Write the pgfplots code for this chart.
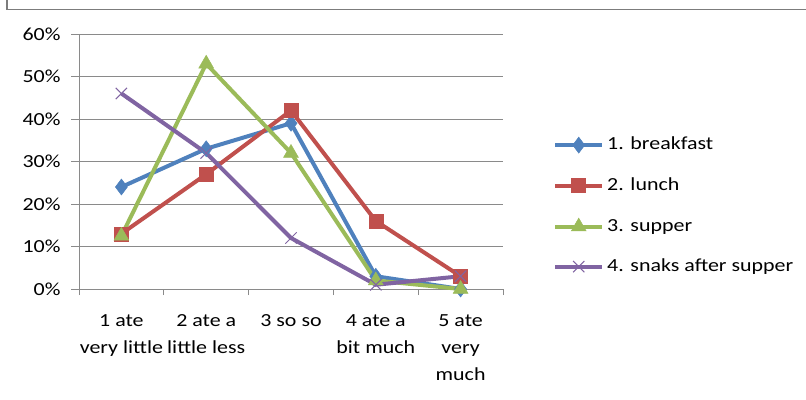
\documentclass[border=0pt]{standalone}
\usepackage{pgfplots}
\pgfplotsset{compat=1.18}
\usepackage{fontspec}
\setmainfont{Carlito}[FakeStretch=1.19]

\definecolor{sBlue}{HTML}{4F81BD}
\definecolor{sRed}{HTML}{C0504D}
\definecolor{sGreen}{HTML}{9BBB59}
\definecolor{sPurple}{HTML}{8064A2}
\definecolor{gridgray}{HTML}{8A8A8A}

\begin{document}
\begin{tikzpicture}[x=1bp,y=1bp]
\path[use as bounding box] (0,0) rectangle (806,399);
% chart frame (top and left edges visible)
\draw[gridgray!90!black, line width=1.6bp] (7,399) -- (7,389.5) -- (806,389.5);

\begin{axis}[
  at={(79bp,110bp)}, anchor=south west,
  width=424bp, height=255bp, scale only axis,
  xmin=0, xmax=5, ymin=0, ymax=60,
  axis x line=bottom, axis y line=left,
  axis line style={gridgray, line width=1bp, -},
  tick align=outside,
  xtick={0.5,1.5,2.5,3.5,4.5},
  xticklabels={{1 ate\\very little},{2 ate a\\little less},{3 so so},{4 ate a\\bit much},{5 ate\\very\\much}},
  major x tick style={draw=none},
  minor xtick={0,1,2,3,4,5},
  minor tick length=6bp,
  minor x tick style={gridgray, line width=1bp},
  ytick={0,10,20,30,40,50,60},
  yticklabel={\pgfmathprintnumber{\tick}\%},
  major tick length=8bp,
  y tick style={gridgray, line width=1bp},
  ymajorgrids,
  grid style={gridgray, line width=1bp},
  /pgf/number format/assume math mode=true,
  xticklabel style={align=center, font=\fontsize{18.5}{27}\selectfont, anchor=north, yshift=-14bp},
  yticklabel style={font=\fontsize{18.5}{20}\selectfont, anchor=east, xshift=-7bp},
  legend style={draw=none, fill=none, inner sep=0pt,
    at={(rel axis cs:1.118,0.327)}, anchor=west,
    font=\fontsize{18.5}{20}\selectfont,
    nodes={inner sep=0pt, anchor=west, text height=12bp, text depth=3bp},
    row sep=25bp, column sep=3bp},
  legend cell align=left,
  legend image code/.code={\draw[mark repeat=2,mark phase=2,#1] plot coordinates {(0bp,0bp) (23.5bp,0bp) (47bp,0bp)};},
  clip=false,
]
\addplot[sBlue, line width=4bp, mark=diamond*, mark size=8bp, mark options={solid, line width=0.5bp, fill=sBlue}]
  coordinates {(0.5,24) (1.5,33) (2.5,39) (3.5,3) (4.5,0)};
\addlegendentry{1. breakfast}
\addplot[sRed, line width=4bp, mark=square*, mark size=7bp, mark options={solid, line width=0.5bp, fill=sRed}]
  coordinates {(0.5,13) (1.5,27) (2.5,42) (3.5,16) (4.5,3)};
\addlegendentry{2. lunch}
\addplot[sGreen, line width=4bp, mark=triangle*, mark size=8.5bp, mark options={solid, line width=0.5bp, fill=sGreen}]
  coordinates {(0.5,12.5) (1.5,53) (2.5,32) (3.5,2) (4.5,0)};
\addlegendentry{3. supper}
\addplot[sPurple, line width=4bp, mark=x, mark size=8bp, mark options={solid, line width=1bp}]
  coordinates {(0.5,46) (1.5,32) (2.5,12) (3.5,1) (4.5,3)};
\addlegendentry{4. snaks after supper}
\end{axis}
\end{tikzpicture}
\end{document}
